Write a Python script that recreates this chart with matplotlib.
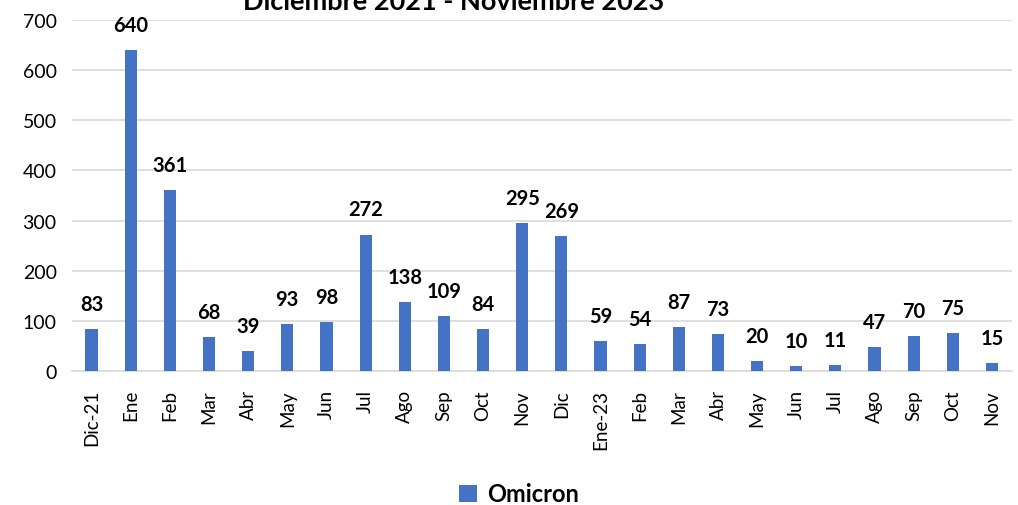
import matplotlib
matplotlib.use("Agg")
import matplotlib.pyplot as plt
from matplotlib.patches import Patch

categories = ["Dic-21", "Ene", "Feb", "Mar", "Abr", "May", "Jun", "Jul", "Ago", "Sep",
              "Oct", "Nov", "Dic", "Ene-23", "Feb", "Mar", "Abr", "May", "Jun", "Jul",
              "Ago", "Sep", "Oct", "Nov"]
omicron = [83, 640, 361, 68, 39, 93, 98, 272, 138, 109, 84, 295, 269, 59, 54, 87, 73,
           20, 10, 11, 47, 70, 75, 15]
yticks = [0, 100, 200, 300, 400, 500, 600, 700]
title = "Diciembre 2021 - Noviembre 2023"
series_name = "Omicron"

plt.rcParams['font.family'] = ['Lato', 'DejaVu Sans']
BAR = "#4472C4"
GRID = "#D9D9D9"

fig = plt.figure(figsize=(10.18, 5.06), dpi=100)
ax = fig.add_axes([0.0707, 0.2648, 0.9937 - 0.0707, 0.9585 - 0.2648])

x = list(range(len(categories)))
bars = ax.bar(x, omicron, width=0.31, color=BAR, zorder=3)
ax.set_xlim(-0.5, len(categories) - 0.5)
ax.set_ylim(0, 700)
ax.set_yticks(yticks)
ax.set_yticklabels([str(v) for v in yticks], fontsize=14)
ax.set_xticks(x)
ax.set_xticklabels(categories, rotation=90, fontsize=13.5)
ax.tick_params(axis='both', length=0, colors='black')
ax.tick_params(axis='y', pad=11)
ax.tick_params(axis='x', pad=13)
ax.yaxis.grid(True, color=GRID, linewidth=1.2, zorder=0)
for s in ["top", "right", "left"]:
    ax.spines[s].set_visible(False)
ax.spines["bottom"].set_color(GRID)
ax.spines["bottom"].set_linewidth(1.2)

for xi, v in zip(x, omicron):
    ax.annotate(str(v), (xi, v), xytext=(0, 11), textcoords="offset points",
                ha="center", va="bottom", fontsize=14.5, fontweight="bold", color="black")

fig.text(0.446, 1 - 10 / 506, title, ha="center", va="baseline",
         fontsize=19.5, fontweight="bold", color="black")

fig.legend(handles=[Patch(facecolor=BAR, label=series_name)], loc="center",
           bbox_to_anchor=(0.51, 1 - 495 / 506), frameon=False, handlelength=0.75,
           handleheight=0.75, handletextpad=0.45, borderpad=0,
           prop={"size": 17, "weight": "bold"})

fig.savefig("out.png", dpi=100)
